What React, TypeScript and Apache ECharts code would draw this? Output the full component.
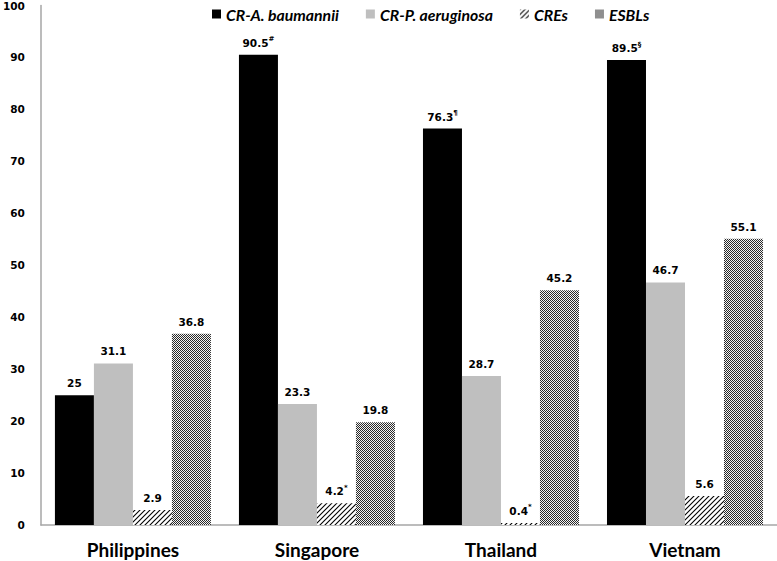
import React, { useEffect, useRef } from "react";
import * as echarts from "echarts";

const categories = ["Philippines", "Singapore", "Thailand", "Vietnam"];
const seriesNames = ["CR-A. baumannii", "CR-P. aeruginosa", "CREs", "ESBLs"];
const abaumannii = [25, 90.5, 76.3, 89.5];
const paeruginosa = [31.1, 23.3, 28.7, 46.7];
const cres = [2.9, 4.2, 0.4, 5.6];
const esbls = [36.8, 19.8, 45.2, 55.1];
const abaumanniiMarks = ["", "#", "¶", "§"];
const paeruginosaMarks = ["", "", "", ""];
const cresMarks = ["", "*", "*", ""];
const esblsMarks = ["", "", "", ""];
const yTicks = [0, 10, 20, 30, 40, 50, 60, 70, 80, 90, 100];

function makeHatch(): HTMLCanvasElement {
  const c = document.createElement("canvas");
  c.width = 5;
  c.height = 5;
  const ctx = c.getContext("2d")!;
  ctx.fillStyle = "#ffffff";
  ctx.fillRect(0, 0, 5, 5);
  ctx.strokeStyle = "#000000";
  ctx.lineWidth = 1.1;
  ctx.beginPath();
  ctx.moveTo(-1, 6);
  ctx.lineTo(6, -1);
  ctx.moveTo(-1, 1);
  ctx.lineTo(1, -1);
  ctx.moveTo(4, 6);
  ctx.lineTo(6, 4);
  ctx.stroke();
  return c;
}

function makeChecker(): HTMLCanvasElement {
  const c = document.createElement("canvas");
  c.width = 2;
  c.height = 2;
  const ctx = c.getContext("2d")!;
  ctx.fillStyle = "#f4f4f4";
  ctx.fillRect(0, 0, 2, 2);
  ctx.fillStyle = "#2a2a2a";
  ctx.fillRect(0, 0, 1, 1);
  ctx.fillRect(1, 1, 1, 1);
  return c;
}

const labelFont = "'DejaVu Sans', Verdana, sans-serif";

function mkLabel(marks: string[]) {
  return {
    show: true,
    position: "top" as const,
    distance: 5,
    formatter: (p: any) => {
      const m = marks[p.dataIndex];
      return m ? `{v|${p.value}}{s|${m}}` : `{v|${p.value}}`;
    },
    rich: {
      v: {
        fontFamily: labelFont,
        fontWeight: "bold",
        fontSize: 10.5,
        color: "#000",
        lineHeight: 14,
      },
      s: {
        fontFamily: labelFont,
        fontWeight: "bold",
        fontSize: 7,
        color: "#000",
        lineHeight: 14,
        verticalAlign: "top",
      },
    },
  };
}

export default function App() {
  const ref = useRef<HTMLDivElement>(null);
  useEffect(() => {
    if (!ref.current) return;
    const chart = echarts.init(ref.current, null, { renderer: "svg" });
    const hatch = { image: makeHatch(), repeat: "repeat" };
    const checker = { image: makeChecker(), repeat: "repeat" };
    const values = [abaumannii, paeruginosa, cres, esbls];
    const marks = [abaumanniiMarks, paeruginosaMarks, cresMarks, esblsMarks];
    const colors: any[] = ["#000000", "#bfbfbf", hatch, checker];
    chart.setOption({
      animation: false,
      backgroundColor: "#ffffff",
      legend: {
        top: 1,
        left: 207,
        itemWidth: 9,
        itemHeight: 9,
        itemGap: 27,
        icon: "rect",
        data: seriesNames,
        textStyle: {
          fontFamily: "Lato, 'Open Sans', sans-serif",
          fontStyle: "italic",
          fontWeight: "bold",
          fontSize: 15.8,
          color: "#000",
        },
      },
      grid: { left: 36, right: 0, top: 5, bottom: 36, containLabel: false },
      xAxis: {
        type: "category",
        data: categories,
        axisLine: { lineStyle: { color: "#a6a6a6", width: 1.5 } },
        axisTick: { show: false },
        axisLabel: {
          margin: 15,
          fontFamily: "Lato, 'Open Sans', sans-serif",
          fontWeight: "bold",
          fontSize: 19,
          lineHeight: 19,
          color: "#000",
        },
      },
      yAxis: {
        type: "value",
        min: yTicks[0],
        max: yTicks[yTicks.length - 1],
        interval: 10,
        axisLine: { show: true, lineStyle: { color: "#a6a6a6", width: 1.5 } },
        axisTick: { show: false },
        splitLine: { show: false },
        axisLabel: {
          margin: 16,
          fontFamily: labelFont,
          fontWeight: "bold",
          fontSize: 10.5,
          color: "#000",
        },
      },
      series: seriesNames.map((name, i) => ({
        name,
        type: "bar",
        data: values[i],
        barWidth: 39,
        barGap: "0%",
        itemStyle: { color: colors[i] },
        label: mkLabel(marks[i]),
      })),
    });
    return () => chart.dispose();
  }, []);
  return (
    <div
      ref={ref}
      style={{ position: "absolute", left: 0, top: 0, width: 777, height: 561 }}
    />
  );
}
